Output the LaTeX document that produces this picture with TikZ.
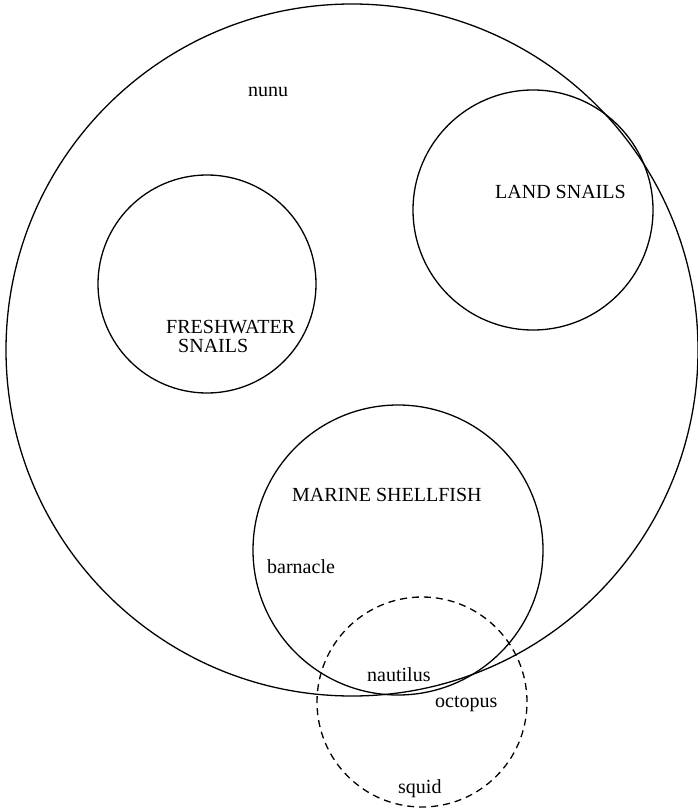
\documentclass[tikz,border=0pt]{standalone}
\usepackage{fontspec}
\setmainfont{Liberation Serif}
\begin{document}
\begin{tikzpicture}[x=1pt,y=-1pt,
  setc/.style={circle,draw,line width=1.3pt,inner sep=0pt,minimum size=#1},
  dashc/.style={setc=#1,dash pattern=on 7pt off 5pt},
  lbl/.style={font=\fontsize{20}{22}\selectfont,inner sep=0pt,anchor=base west}]
\useasboundingbox (0,0) rectangle (697,810);
% sets
\node[setc=692pt] (nunu) at (352,350) {};
\node[setc=240pt] (land) at (533,210) {};
\node[setc=218pt] (fresh) at (207,284) {};
\node[setc=290pt] (marine) at (398,550) {};
\node[dashc=210pt] (ceph) at (422,702) {};
% labels
\node[lbl] (tnunu) at (248,97) {nunu};
\node[lbl] (tland) at (495,199) {LAND SNAILS};
\node[lbl] (tfresh1) at (166,333) {FRESHWATER};
\node[lbl] (tfresh2) at (178,352) {SNAILS};
\node[lbl] (tmarine) at (292,501) {MARINE SHELLFISH};
\node[lbl] (tbarn) at (267,573) {barnacle};
\node[lbl] (tnaut) at (367,681) {nautilus};
\node[lbl] (toct) at (435,707) {octopus};
\node[lbl] (tsquid) at (398,793) {squid};
\end{tikzpicture}
\end{document}
